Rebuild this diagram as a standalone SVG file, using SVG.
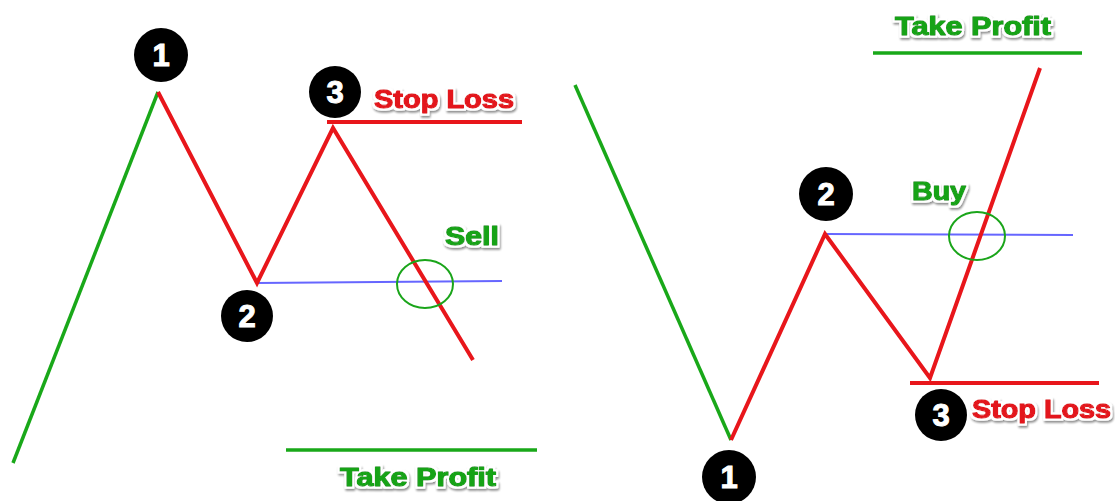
<svg xmlns="http://www.w3.org/2000/svg" width="1115" height="501" viewBox="0 0 1115 501">
<defs>
<filter id="sh" x="-10%" y="-40%" width="120%" height="180%">
<feMorphology in="SourceAlpha" operator="dilate" radius="1.8" result="out"/>
<feFlood flood-color="#fff"/>
<feComposite in2="out" operator="in" result="white"/>
<feGaussianBlur in="out" stdDeviation="1.2"/>
<feOffset dx="1" dy="2"/>
<feComponentTransfer><feFuncA type="linear" slope="0.45"/></feComponentTransfer>
<feMerge><feMergeNode/><feMergeNode in="white"/><feMergeNode in="SourceGraphic"/></feMerge>
</filter>
</defs>
<style>
.lbl{font-family:"Liberation Sans",Arial,sans-serif;font-weight:bold;font-size:25px;stroke-width:1.3;stroke-linejoin:round;filter:url(#sh)}
.red{fill:#e3161c;stroke:#e3161c}
.grn{fill:#14a314;stroke:#14a314}
.num circle{fill:#000}
.num text{font-family:"Liberation Sans",Arial,sans-serif;font-weight:bold;font-size:31px;fill:#fff;stroke:#fff;stroke-width:1;text-anchor:middle}
.gl{stroke:#19a819;stroke-width:3.5;fill:none}
.rl{stroke:#e8161b;stroke-width:4;fill:none;stroke-linejoin:miter}
.bl{stroke:#6666ff;stroke-width:2;fill:none}
.ell{stroke:#1aa51a;stroke-width:2;fill:none}
</style>
<rect width="1115" height="501" fill="#fff"/>
<g id="connectors">
<line class="gl" x1="13" y1="463" x2="158" y2="92"/>
<line class="bl" x1="257" y1="283" x2="502" y2="281"/>
<polyline class="rl" points="158,92 257,283 333,128 473,360"/>
<line class="rl" x1="327" y1="122" x2="522" y2="122"/>
<line class="gl" x1="286" y1="450" x2="537" y2="450"/>
<ellipse class="ell" cx="425" cy="284" rx="28" ry="24"/>
<line class="gl" x1="575" y1="85" x2="731" y2="440"/>
<line class="bl" x1="825" y1="234" x2="1073" y2="235"/>
<polyline class="rl" points="731,440 825,234 930,378 1040,68"/>
<line class="rl" x1="910" y1="383" x2="1099" y2="383"/>
<line class="gl" x1="873" y1="53" x2="1082" y2="53"/>
<ellipse class="ell" cx="977" cy="236" rx="28" ry="24"/>
</g>
<g id="L1" class="num"><circle cx="161" cy="55" r="27"/><text x="161" y="66">1</text></g>
<g id="L2" class="num"><circle cx="247" cy="316" r="26"/><text x="247" y="327">2</text></g>
<g id="L3" class="num"><circle cx="335" cy="92" r="26"/><text x="335" y="103">3</text></g>
<g id="R1" class="num"><circle cx="729" cy="477" r="27"/><text x="729" y="488">1</text></g>
<g id="R2" class="num"><circle cx="826" cy="194" r="27"/><text x="826" y="205">2</text></g>
<g id="R3" class="num"><circle cx="941" cy="415" r="26"/><text x="941" y="426">3</text></g>
<g id="labels">
<text class="lbl red" x="374" y="108" textLength="140" lengthAdjust="spacingAndGlyphs">Stop Loss</text>
<text class="lbl grn" x="445" y="245" textLength="54" lengthAdjust="spacingAndGlyphs">Sell</text>
<text class="lbl grn" x="340" y="486" textLength="156" lengthAdjust="spacingAndGlyphs">Take Profit</text>
<text class="lbl grn" x="895" y="35" textLength="156" lengthAdjust="spacingAndGlyphs">Take Profit</text>
<text class="lbl grn" x="912" y="200" textLength="54" lengthAdjust="spacingAndGlyphs">Buy</text>
<text class="lbl red" x="972" y="418" textLength="139" lengthAdjust="spacingAndGlyphs">Stop Loss</text>
</g>
</svg>
